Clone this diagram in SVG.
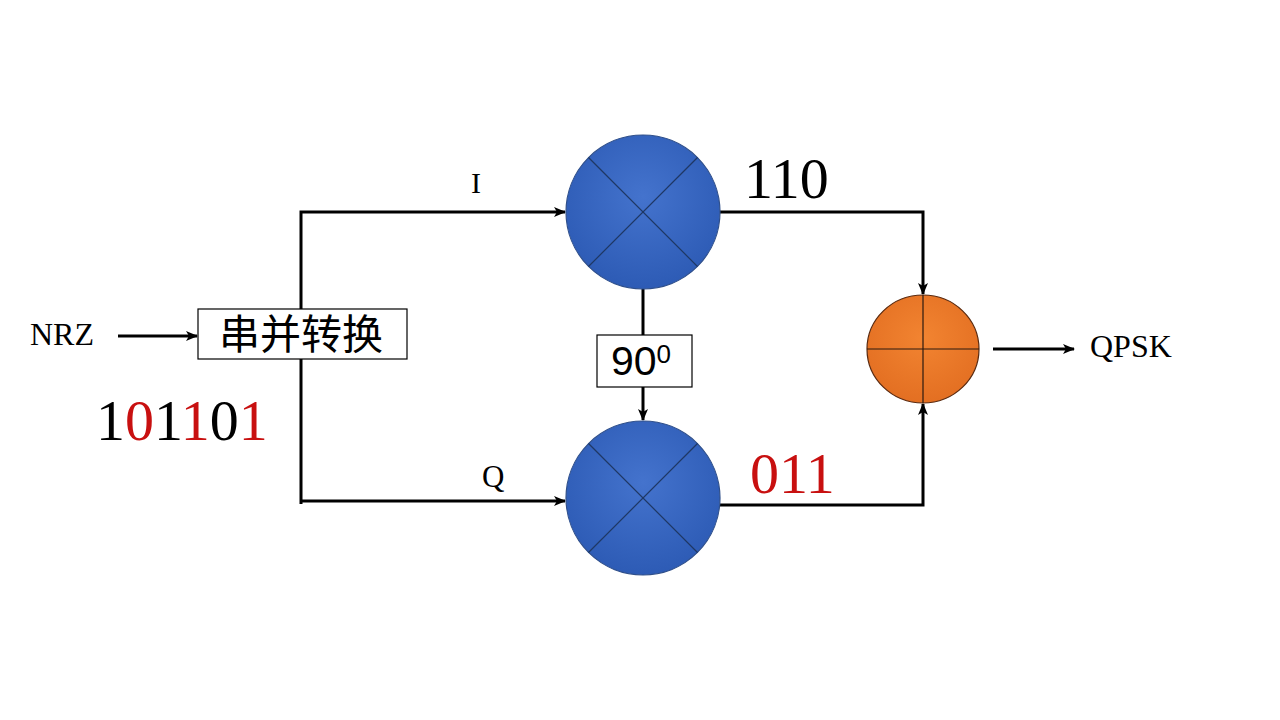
<svg xmlns="http://www.w3.org/2000/svg" width="1280" height="720" viewBox="0 0 1280 720">
<style>
.ln{stroke:#000;stroke-width:3;fill:none}
.box{fill:#fff;stroke:#000;stroke-width:1.2}
.serif{font-family:"Liberation Serif","Times New Roman",serif;fill:#000}
.red{fill:#C81010}
.x{stroke:#1F3864;stroke-width:1.2}
.cross{stroke:#2a1a10;stroke-width:1.2}
</style>
<defs>
<marker id="ah" markerWidth="12" markerHeight="10" refX="11" refY="5" orient="auto" markerUnits="userSpaceOnUse">
<path d="M0,0 L12,5 L0,10 L3,5 Z" fill="#000"/>
</marker>
<radialGradient id="blue" cx="50%" cy="40%" r="60%">
<stop offset="0" stop-color="#4473CD"/>
<stop offset="1" stop-color="#2D5BB5"/>
</radialGradient>
<radialGradient id="orange" cx="50%" cy="40%" r="60%">
<stop offset="0" stop-color="#F28431"/>
<stop offset="1" stop-color="#E36F22"/>
</radialGradient>
</defs>
<rect width="1280" height="720" fill="#fff"/>
<g id="connectors">
<line class="ln" x1="118" y1="336" x2="197" y2="336" marker-end="url(#ah)"/>
<polyline class="ln" points="301,504 301,212 565,212" marker-end="url(#ah)"/>
<polyline class="ln" points="301,501 565,501" marker-end="url(#ah)"/>
<line class="ln" x1="643" y1="289" x2="643" y2="335"/>
<line class="ln" x1="643" y1="387" x2="643" y2="420" marker-end="url(#ah)"/>
<polyline class="ln" points="720,212 923,212 923,294" marker-end="url(#ah)"/>
<polyline class="ln" points="720,505 923,505 923,404" marker-end="url(#ah)"/>
<line class="ln" x1="993" y1="349" x2="1074" y2="349" marker-end="url(#ah)"/>
</g>
<g id="nrz"><text class="serif" x="30" y="345" font-size="32">NRZ</text></g>
<g id="bits"><text class="serif" x="96" y="440" font-size="58"><tspan>1</tspan><tspan class="red">0</tspan><tspan>1</tspan><tspan class="red">1</tspan><tspan>0</tspan><tspan class="red">1</tspan></text></g>
<g id="sp">
<rect class="box" x="198" y="309" width="209" height="50"/>
<text x="301" y="349" font-size="41" text-anchor="middle" font-family="'Noto Sans CJK SC',sans-serif" fill="#000">串并转换</text>
</g>
<g id="labelI"><text class="serif" x="471" y="193" font-size="30">I</text></g>
<g id="labelQ"><text class="serif" x="482" y="487" font-size="31">Q</text></g>
<g id="mixI">
<circle cx="643" cy="212" r="77" fill="url(#blue)" stroke="#2F4F8A" stroke-width="1.2"/>
<line class="x" x1="588.5" y1="157.5" x2="697.5" y2="266.5"/>
<line class="x" x1="697.5" y1="157.5" x2="588.5" y2="266.5"/>
</g>
<g id="mixQ">
<circle cx="643" cy="498" r="77" fill="url(#blue)" stroke="#2F4F8A" stroke-width="1.2"/>
<line class="x" x1="588.5" y1="443.5" x2="697.5" y2="552.5"/>
<line class="x" x1="697.5" y1="443.5" x2="588.5" y2="552.5"/>
</g>
<g id="phase">
<rect class="box" x="597" y="335" width="95" height="52"/>
<text x="611" y="375" font-size="41" font-family="'Liberation Sans',Arial,sans-serif" fill="#000">90<tspan font-size="26" dy="-12">0</tspan></text>
</g>
<g id="i110"><text class="serif" x="744" y="198" font-size="58">110</text></g>
<g id="q011"><text class="serif red" x="750" y="493" font-size="58">011</text></g>
<g id="sum">
<ellipse cx="923" cy="349" rx="56" ry="54" fill="url(#orange)" stroke="#5a2a10" stroke-width="1.2"/>
<line class="cross" x1="867" y1="349" x2="979" y2="349"/>
<line class="cross" x1="923" y1="295" x2="923" y2="403"/>
</g>
<g id="qpsk"><text class="serif" x="1090" y="357" font-size="32">QPSK</text></g>
</svg>
